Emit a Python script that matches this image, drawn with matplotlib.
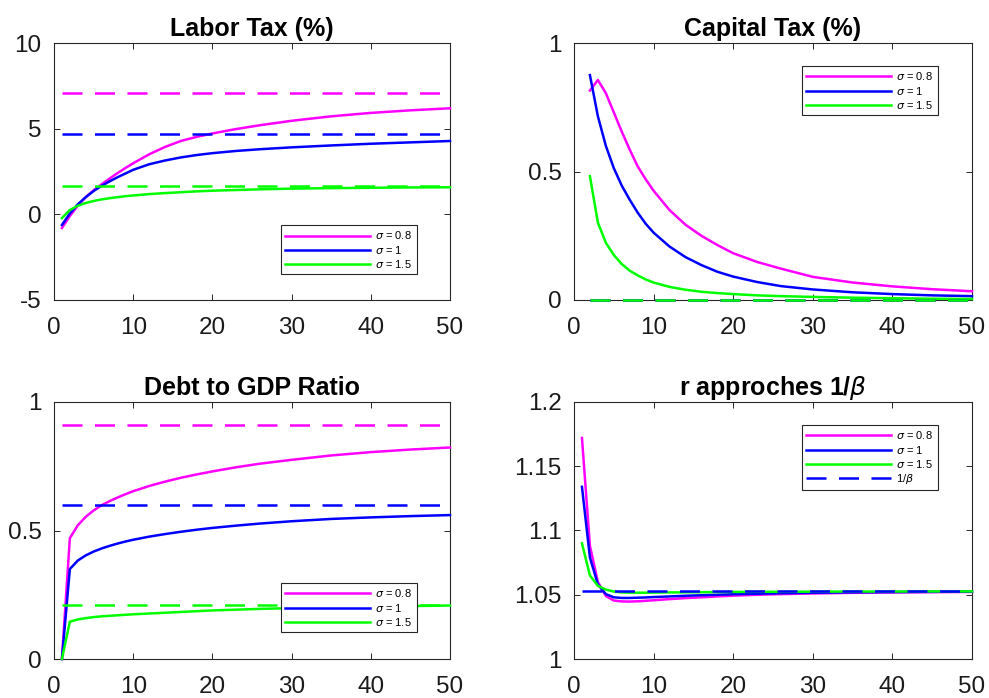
import matplotlib
matplotlib.use("Agg")
import matplotlib.pyplot as plt

plt.rcParams['font.family'] = ['Liberation Sans', 'DejaVu Sans']
plt.rcParams['mathtext.fontset'] = 'dejavusans'

# ---------------- data ----------------
t = [1, 2, 3, 4, 5, 6, 7, 8, 9, 10, 12, 14, 16, 18, 20, 23, 26, 30, 35, 40, 45, 50]
t_cap = [2, 3, 4, 5, 6, 7, 8, 9, 10, 12, 14, 16, 18, 20, 23, 26, 30, 35, 40, 45, 50]

labor_08 = [-0.8, -0.1, 0.5, 1.0, 1.4, 1.75, 2.08, 2.4, 2.7, 2.98, 3.5, 3.93, 4.28, 4.52, 4.72, 4.98, 5.2, 5.46, 5.72, 5.92, 6.07, 6.19]
labor_10 = [-0.62, 0.05, 0.58, 1.0, 1.36, 1.66, 1.92, 2.16, 2.38, 2.6, 2.92, 3.14, 3.32, 3.46, 3.57, 3.7, 3.8, 3.91, 4.02, 4.12, 4.2, 4.28]
labor_15 = [-0.22, 0.25, 0.5, 0.66, 0.78, 0.87, 0.94, 1.0, 1.06, 1.1, 1.18, 1.24, 1.29, 1.34, 1.38, 1.42, 1.46, 1.5, 1.53, 1.55, 1.57, 1.58]
labor_ss = [7.1, 4.7, 1.65]

cap_08 = [0.815, 0.856, 0.805, 0.73, 0.655, 0.585, 0.52, 0.47, 0.425, 0.35, 0.293, 0.25, 0.214, 0.182, 0.148, 0.122, 0.09, 0.068, 0.053, 0.042, 0.034]
cap_10 = [0.875, 0.715, 0.6, 0.513, 0.445, 0.39, 0.34, 0.297, 0.262, 0.208, 0.167, 0.136, 0.11, 0.091, 0.07, 0.054, 0.041, 0.03, 0.023, 0.018, 0.015]
cap_15 = [0.482, 0.301, 0.223, 0.175, 0.14, 0.114, 0.096, 0.08, 0.068, 0.051, 0.04, 0.032, 0.027, 0.023, 0.018, 0.015, 0.012, 0.009, 0.007, 0.005, 0.004]
cap_ss = [0.0, 0.0, 0.0]

debt_08 = [0.0, 0.47, 0.52, 0.553, 0.578, 0.598, 0.614, 0.628, 0.641, 0.653, 0.673, 0.69, 0.705, 0.718, 0.73, 0.746, 0.76, 0.775, 0.792, 0.805, 0.815, 0.823]
debt_10 = [0.0, 0.35, 0.383, 0.403, 0.418, 0.43, 0.44, 0.449, 0.457, 0.464, 0.476, 0.486, 0.495, 0.503, 0.51, 0.519, 0.527, 0.536, 0.545, 0.551, 0.556, 0.56]
debt_15 = [0.0, 0.145, 0.154, 0.159, 0.163, 0.166, 0.168, 0.17, 0.172, 0.174, 0.177, 0.18, 0.183, 0.186, 0.189, 0.192, 0.195, 0.198, 0.201, 0.204, 0.206, 0.208]
debt_ss = [0.91, 0.6, 0.21]

r_08 = [1.172, 1.088, 1.06, 1.049, 1.0455, 1.0448, 1.0447, 1.0449, 1.0453, 1.0457, 1.0466, 1.0474, 1.048, 1.0487, 1.0493, 1.05, 1.0505, 1.051, 1.0515, 1.0518, 1.052, 1.0522]
r_10 = [1.134, 1.079, 1.058, 1.0505, 1.048, 1.0475, 1.0475, 1.0477, 1.0479, 1.0482, 1.0487, 1.0492, 1.0496, 1.05, 1.0504, 1.0508, 1.0512, 1.0516, 1.0519, 1.0521, 1.0523, 1.0524]
r_15 = [1.09, 1.065, 1.057, 1.054, 1.0525, 1.0518, 1.0516, 1.0516, 1.0516, 1.0517, 1.0518, 1.0519, 1.052, 1.0521, 1.0522, 1.0523, 1.0523, 1.0524, 1.0525, 1.0525, 1.0526, 1.0526]
inv_beta = 1.0526

labels = [r'$\sigma$ = 0.8', r'$\sigma$ = 1', r'$\sigma$ = 1.5']
colors = ['#FF00FF', '#0000FF', '#00FF00']

titles = ['Labor Tax (%)', 'Capital Tax (%)', 'Debt to GDP Ratio', r'r approches 1/$\beta$']
yticks = [[-5, 0, 5, 10], [0, 0.5, 1], [0, 0.5, 1], [1, 1.05, 1.1, 1.15, 1.2]]
yticklabels = [['-5', '0', '5', '10'], ['0', '0.5', '1'], ['0', '0.5', '1'], ['1', '1.05', '1.1', '1.15', '1.2']]
ylims = [(-5, 10), (0, 1), (0, 1), (1, 1.2)]
xticks = [0, 10, 20, 30, 40, 50]

# ---------------- figure ----------------
W, H = 989, 698
fig = plt.figure(figsize=(W / 100, H / 100), dpi=100)

boxes = [(54, 43, 450, 300), (574, 43, 972, 300), (54, 402, 450, 659), (574, 402, 972, 659)]
axes = []
for (x0, y0, x1, y1) in boxes:
    ax = fig.add_axes([x0 / W, 1 - y1 / H, (x1 - x0) / W, (y1 - y0) / H])
    axes.append(ax)

LW = 1.8
DASH = (8, 5)

def style(ax, i):
    ax.set_xlim(0, 50)
    ax.set_ylim(*ylims[i])
    ax.set_xticks(xticks)
    ax.set_xticklabels([str(v) for v in xticks])
    ax.set_yticks(yticks[i])
    ax.set_yticklabels(yticklabels[i])
    ax.tick_params(direction='in', length=4, width=0.7, top=True, right=True,
                   labelsize=17.5, colors='#262626', labelcolor='#1a1a1a')
    ax.tick_params(axis='x', pad=12)
    ax.tick_params(axis='y', pad=9)
    for s in ax.spines.values():
        s.set_color('#262626')
        s.set_linewidth(0.8)
    ax.set_title(titles[i], fontsize=18, fontweight='bold', pad=5)

def legend(ax, anchor, handles, labs):
    leg = ax.legend(handles, labs, loc='upper left', bbox_to_anchor=anchor,
                    borderaxespad=0, fontsize=8, handlelength=7.6, handletextpad=0.5,
                    borderpad=0.4, labelspacing=0.2, fancybox=False,
                    edgecolor='#262626', framealpha=1)
    leg.get_frame().set_linewidth(0.8)
    leg.set_zorder(5)
    return leg

def solid(ax, x, y, c, lab):
    return ax.plot(x, y, color=c, lw=LW, label=lab, zorder=3, clip_on=False)[0]

def dashed(ax, x0, x1, v, c):
    return ax.plot([x0, x1], [v, v], color=c, lw=LW, dashes=DASH, zorder=3, clip_on=False)[0]

# Labor tax
ax = axes[0]
h = [solid(ax, t, ys, c, lab) for ys, c, lab in zip([labor_08, labor_10, labor_15], colors, labels)]
for v, c in zip(labor_ss, colors):
    dashed(ax, t[0], t[-1], v, c)
style(ax, 0)
legend(ax, (0.573, 0.292), h, labels)

# Capital tax
ax = axes[1]
h = [solid(ax, t_cap, ys, c, lab) for ys, c, lab in zip([cap_08, cap_10, cap_15], colors, labels)]
for v, c in zip(cap_ss, colors):
    dashed(ax, t_cap[0], t_cap[-1], v, c)
style(ax, 1)
legend(ax, (0.573, 0.911), h, labels)

# Debt
ax = axes[2]
h = [solid(ax, t, ys, c, lab) for ys, c, lab in zip([debt_08, debt_10, debt_15], colors, labels)]
for v, c in zip(debt_ss, colors):
    dashed(ax, t[0], t[-1], v, c)
style(ax, 2)
legend(ax, (0.573, 0.296), h, labels)

# r
ax = axes[3]
h = [solid(ax, t, ys, c, lab) for ys, c, lab in zip([r_08, r_10, r_15], colors, labels)]
h.append(dashed(ax, t[0], t[-1], inv_beta, '#0000FF'))
style(ax, 3)
legend(ax, (0.573, 0.911), h, labels + [r'1/$\beta$'])

fig.savefig('out.png', dpi=100)
